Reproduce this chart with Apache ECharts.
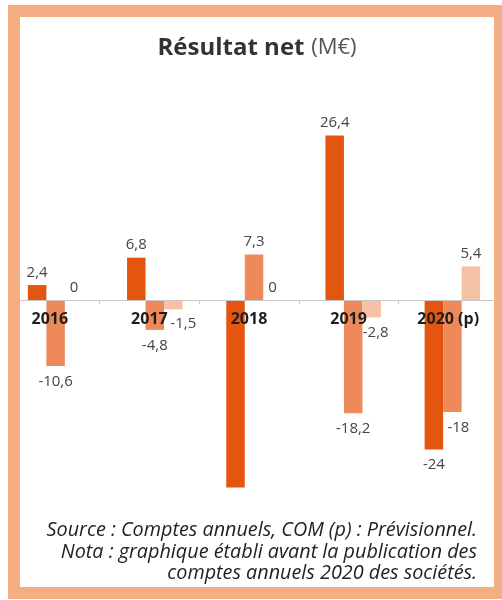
<!DOCTYPE html>
<html>
<head>
<meta charset="utf-8">
<script src="https://cdn.jsdelivr.net/npm/echarts@6/dist/echarts.min.js"></script>
<style>
  html, body { margin: 0; padding: 0; background: #fff; }
  #chart { width: 502px; height: 600px; }
</style>
</head>
<body>
<div id="chart"></div>
<script>
// données (M€)
const years = ['2016', '2017', '2018', '2019', '2020 (p)'];
const serie1 = [2.4, 6.8, -30.1, 26.4, -24];
const serie2 = [-10.6, -4.8, 7.3, -18.2, -18];
const serie3 = [0, -1.5, 0, -2.8, 5.4];

const colors = ['#E4560F', '#EE8A5A', '#F6C2A6'];
const font = '"Open Sans", "DejaVu Sans", sans-serif';

// petits décalages d'étiquettes comme sur l'original
const labelTweaks = {
  '0-2': { show: false },
  '2-1': { offset: [10, -1] },
  '2-3': { offset: [4, 0] },
  '1-4': { offset: [6, 0] }
};

function buildData(values, s) {
  return values.map((v, i) => {
    const tweak = labelTweaks[s + '-' + i] || {};
    return {
      value: v,
      label: Object.assign({ position: v < 0 ? 'bottom' : 'top', distance: v < 0 ? 8 : 5 }, tweak)
    };
  });
}

function makeSeries(values, s) {
  return {
    type: 'bar',
    xAxisIndex: 0,
    yAxisIndex: 0,
    barWidth: 18.5,
    barGap: '0%',
    itemStyle: { color: colors[s] },
    label: {
      show: true,
      color: '#444',
      fontFamily: font,
      fontSize: 15,
      formatter: p => String(p.value).replace('.', ',')
    },
    data: buildData(values, s)
  };
}

const chart = echarts.init(document.getElementById('chart'));

const option = {
  animation: false,
  grid: [
    { left: 6, width: 502, top: 82, height: 436 },
    { left: -4, width: 502, top: 100, height: 200 }
  ],
  xAxis: [
    {
      gridIndex: 0,
      type: 'category',
      data: years,
      axisLine: { show: false },
      axisTick: { show: false },
      axisLabel: { show: false }
    },
    {
      gridIndex: 1,
      type: 'category',
      data: years,
      z: 10,
      axisLine: { lineStyle: { color: '#c8c8c8', width: 1 } },
      axisTick: { show: true, length: 4, lineStyle: { color: '#c8c8c8' } },
      axisLabel: {
        margin: 11,
        color: '#1e1e1e',
        fontFamily: font,
        fontWeight: 'bold',
        fontSize: 16
      }
    }
  ],
  yAxis: [
    { gridIndex: 0, type: 'value', min: -35, max: 35, show: false },
    { gridIndex: 1, type: 'value', min: 0, max: 1, show: false }
  ],
  series: [
    makeSeries(serie1, 0),
    makeSeries(serie2, 1),
    makeSeries(serie3, 2)
  ],
  graphic: [
    {
      type: 'text',
      z: 50,
      style: {
        text: '{b|Résultat net}  {r|(M€)}',
        x: 257,
        y: 48,
        textAlign: 'center',
        textVerticalAlign: 'middle',
        rich: {
          b: { fontFamily: font, fontWeight: 'bold', fontSize: 24, fill: '#333' },
          r: { fontFamily: font, fontSize: 22, fill: '#555' }
        }
      }
    },
    {
      type: 'text',
      z: 50,
      style: {
        text: 'Source : Comptes annuels, COM (p) : Prévisionnel.\nNota : graphique établi avant la publication des\ncomptes annuels 2020 des sociétés.',
        x: 477,
        y: 520,
        textAlign: 'right',
        font: 'italic 19.8px ' + font,
        lineHeight: 21.5,
        fill: '#222'
      }
    },
    {
      type: 'rect',
      z: 100,
      shape: { x: 0, y: 0, width: 8, height: 600 },
      style: { fill: '#fff' }
    },
    {
      type: 'rect',
      z: 100,
      shape: { x: 14, y: 11, width: 486, height: 582 },
      style: { fill: 'none', stroke: '#F4AE84', lineWidth: 12 }
    }
  ]
};

chart.setOption(option);
</script>
</body>
</html>
